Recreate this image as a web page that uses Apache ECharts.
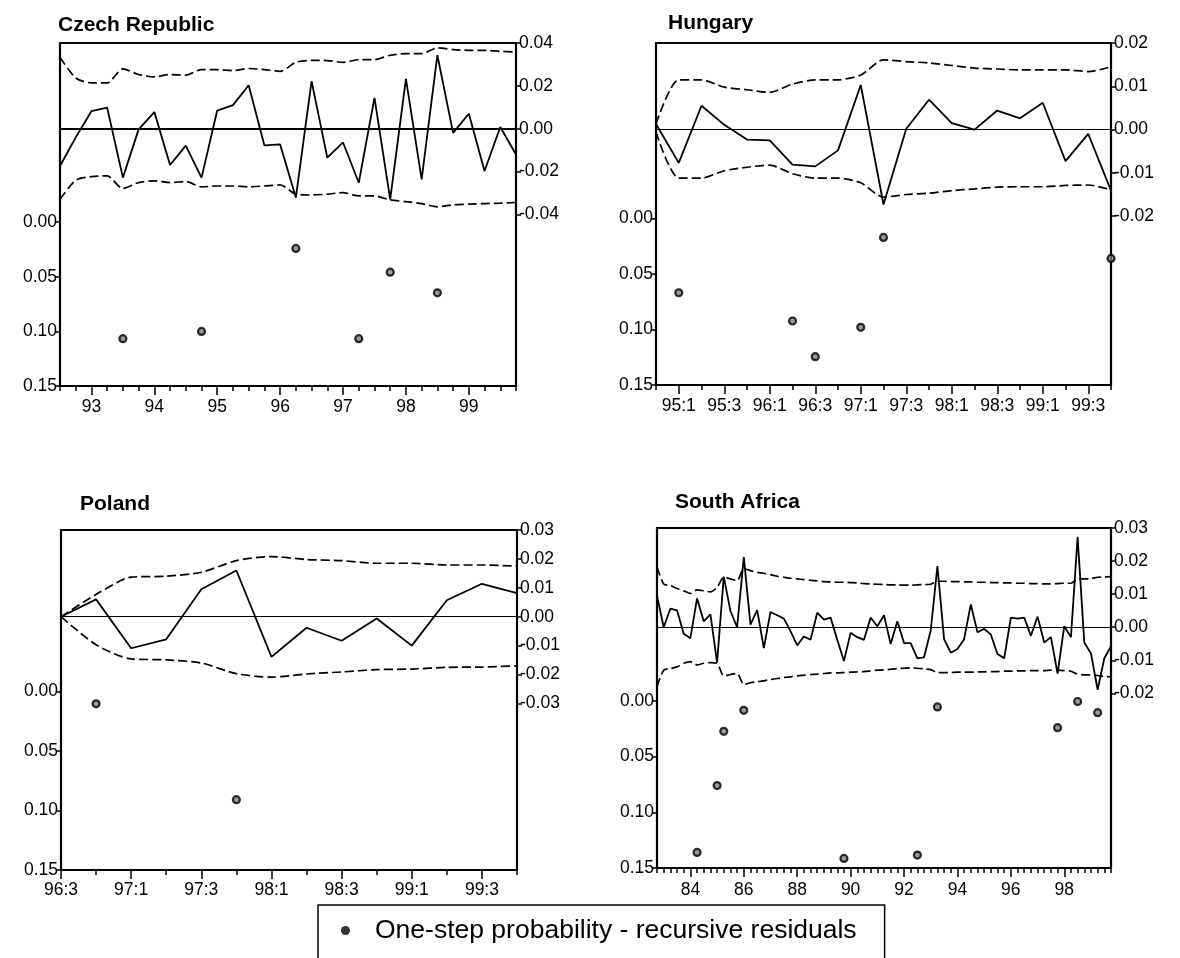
<!DOCTYPE html>
<html>
<head>
<meta charset="utf-8">
<script src="https://cdn.jsdelivr.net/npm/echarts@6/dist/echarts.min.js"></script>
<style>
  html, body { margin: 0; padding: 0; background: #fff; }
  #chart { width: 1180px; height: 958px; }
</style>
</head>
<body>
<div id="chart"></div>
<script>
// Recursive residuals (with +/- 2 S.E. bands) and one-step probabilities, quarterly.

// ---- Czech Republic (92:3 - 99:4) ----
const czStart = [92, 3], czCount = 30;
const czResid = [-0.0174, -0.0040, 0.0082, 0.0098, -0.0228, -0.0003, 0.0078, -0.0169, -0.0079, -0.0228,
                 0.0085, 0.0110, 0.0203, -0.0078, -0.0073, -0.0321, 0.0222, -0.0135, -0.0064, -0.0252,
                 0.0144, -0.0329, 0.0233, -0.0236, 0.0343, -0.0019, 0.0070, -0.0197, 0.0008, -0.0120];
const czUpper = [0.0333, 0.0237, 0.0214, 0.0214, 0.0279, 0.0253, 0.0242, 0.0253, 0.0250, 0.0276,
                 0.0276, 0.0271, 0.0281, 0.0276, 0.0268, 0.0310, 0.0319, 0.0318, 0.0310, 0.0322,
                 0.0322, 0.0343, 0.0350, 0.0350, 0.0377, 0.0369, 0.0366, 0.0366, 0.0361, 0.0358];
const czLower = [-0.0329, -0.0240, -0.0223, -0.0220, -0.0279, -0.0251, -0.0243, -0.0251, -0.0246, -0.0271,
                 -0.0267, -0.0267, -0.0271, -0.0267, -0.0262, -0.0305, -0.0309, -0.0305, -0.0298, -0.0313,
                 -0.0313, -0.0332, -0.0340, -0.0349, -0.0364, -0.0355, -0.0352, -0.0349, -0.0347, -0.0344];
const czProbQ = ['93:3', '94:4', '96:2', '97:2', '97:4', '98:3'];
const czProb  = [0.1067, 0.1000, 0.0241, 0.1067, 0.0458, 0.0647];
const czResidTicks = [-0.04, -0.02, 0.00, 0.02, 0.04];

// ---- Hungary (94:4 - 99:4) ----
const huStart = [94, 4], huCount = 21;
const huResid = [0.0013, -0.0077, 0.0055, 0.0011, -0.0023, -0.0025, -0.0081, -0.0085, -0.0048, 0.0103,
                 -0.0173, 0.0002, 0.0069, 0.0015, 0.0000, 0.0044, 0.0026, 0.0062, -0.0073, -0.0010, -0.0141];
const huUpper = [0.0013, 0.0115, 0.0115, 0.0098, 0.0092, 0.0086, 0.0105, 0.0115, 0.0115, 0.0126,
                 0.0161, 0.0157, 0.0154, 0.0148, 0.0142, 0.0140, 0.0138, 0.0138, 0.0138, 0.0134, 0.0145];
const huLower = [-0.0006, -0.0112, -0.0112, -0.0095, -0.0087, -0.0082, -0.0102, -0.0112, -0.0112, -0.0123,
                 -0.0156, -0.0150, -0.0147, -0.0141, -0.0137, -0.0133, -0.0132, -0.0132, -0.0129, -0.0128, -0.0139];
const huProbQ = ['95:1', '96:2', '96:3', '97:1', '97:2', '99:4'];
const huProb  = [0.0668, 0.0923, 0.1245, 0.0980, 0.0169, 0.0359];
const huResidTicks = [-0.02, -0.01, 0.00, 0.01, 0.02];

// ---- Poland (96:3 - 99:4) ----
const plStart = [96, 3], plCount = 14;
const plResid = [0.0000, 0.0060, -0.0109, -0.0078, 0.0095, 0.0160, -0.0139, -0.0038, -0.0083, -0.0006,
                 -0.0100, 0.0057, 0.0114, 0.0082];
const plUpper = [0.0000, 0.0077, 0.0137, 0.0140, 0.0154, 0.0194, 0.0208, 0.0198, 0.0194, 0.0185,
                 0.0185, 0.0179, 0.0179, 0.0175];
const plLower = [0.0000, -0.0097, -0.0146, -0.0149, -0.0160, -0.0197, -0.0209, -0.0198, -0.0191, -0.0183,
                 -0.0181, -0.0175, -0.0174, -0.0170];
const plProbQ = ['96:4', '97:4'];
const plProb  = [0.0104, 0.0909];
const plResidTicks = [-0.03, -0.02, -0.01, 0.00, 0.01, 0.02, 0.03];

// ---- South Africa (82:4 - 99:4) ----
const saStart = [82, 4], saCount = 69;
const saResid = [0.0095, 0.0000, 0.0056, 0.0051, -0.0020, -0.0033, 0.0087, 0.0018, 0.0039, -0.0107,
                 0.0153, 0.0049, 0.0000, 0.0212, 0.0008, 0.0052, -0.0063, 0.0046, 0.0036, 0.0026,
                 -0.0012, -0.0055, -0.0028, -0.0038, 0.0044, 0.0023, 0.0029, -0.0038, -0.0102, -0.0017,
                 -0.0030, -0.0038, 0.0029, 0.0003, 0.0036, -0.0051, 0.0018, -0.0048, -0.0048, -0.0094,
                 -0.0091, -0.0010, 0.0185, -0.0036, -0.0077, -0.0066, -0.0036, 0.0069, -0.0015, -0.0005,
                 -0.0022, -0.0081, -0.0094, 0.0029, 0.0026, 0.0029, -0.0026, 0.0032, -0.0046, -0.0030,
                 -0.0140, 0.0003, -0.0030, 0.0273, -0.0046, -0.0079, -0.0189, -0.0094, -0.0058];
const saUpper = [0.0182, 0.0131, 0.0126, 0.0117, 0.0110, 0.0102, 0.0113, 0.0110, 0.0107, 0.0120,
                 0.0151, 0.0146, 0.0141, 0.0177, 0.0171, 0.0166, 0.0163, 0.0159, 0.0154, 0.0151,
                 0.0148, 0.0146, 0.0144, 0.0142, 0.0140, 0.0138, 0.0137, 0.0136, 0.0136, 0.0135,
                 0.0134, 0.0132, 0.0131, 0.0130, 0.0129, 0.0128, 0.0128, 0.0127, 0.0127, 0.0128,
                 0.0129, 0.0130, 0.0139, 0.0139, 0.0138, 0.0138, 0.0137, 0.0137, 0.0136, 0.0136,
                 0.0135, 0.0135, 0.0134, 0.0134, 0.0133, 0.0133, 0.0132, 0.0132, 0.0131, 0.0131,
                 0.0132, 0.0133, 0.0133, 0.0146, 0.0146, 0.0147, 0.0151, 0.0152, 0.0153];
const saLower = [-0.0180, -0.0130, -0.0125, -0.0120, -0.0109, -0.0104, -0.0114, -0.0109, -0.0107, -0.0109,
                 -0.0147, -0.0143, -0.0140, -0.0173, -0.0168, -0.0165, -0.0162, -0.0158, -0.0155, -0.0152,
                 -0.0150, -0.0147, -0.0145, -0.0143, -0.0142, -0.0140, -0.0138, -0.0138, -0.0137, -0.0136,
                 -0.0135, -0.0134, -0.0132, -0.0130, -0.0129, -0.0127, -0.0125, -0.0124, -0.0123, -0.0124,
                 -0.0126, -0.0128, -0.0137, -0.0137, -0.0137, -0.0136, -0.0136, -0.0136, -0.0135, -0.0135,
                 -0.0134, -0.0134, -0.0133, -0.0133, -0.0132, -0.0132, -0.0131, -0.0131, -0.0131, -0.0130,
                 -0.0130, -0.0131, -0.0133, -0.0142, -0.0144, -0.0144, -0.0146, -0.0149, -0.0150];
const saProbQ = ['84:2', '85:1', '85:2', '86:1', '89:4', '92:3', '93:2', '97:4', '98:3', '99:2'];
const saProb  = [0.1360, 0.0760, 0.0273, 0.0084, 0.1414, 0.1384, 0.0054, 0.0240, 0.0005, 0.0105];
const saResidTicks = [-0.02, -0.01, 0.00, 0.01, 0.02, 0.03];

const probTicks = [0.00, 0.05, 0.10, 0.15];
const legendText = 'One-step probability - recursive residuals';

// quarterly period labels "yy:q"
function quarters(start, n) {
  const out = [];
  let y = start[0], q = start[1];
  for (let i = 0; i < n; i++) {
    out.push(y + ':' + q);
    q++; if (q > 4) { q = 1; y++; }
  }
  return out;
}

const FONT = 'Liberation Sans, Arial, Helvetica, sans-serif';
const panels = [
  { title: 'Czech Republic', titlePos: [53, 10], box: [60, 43, 456, 343], xMargin: 12,
    cats: quarters(czStart, czCount), resid: czResid, upper: czUpper, lower: czLower,
    probQ: czProbQ, prob: czProb, rTicks: czResidTicks, rRange: [-0.12, 0.04], pMin: -0.164,
    zeroW: 1.8, major: c => c.endsWith(':1'), fmt: c => c.split(':')[0] },
  { title: 'Hungary', titlePos: [663, 8], box: [656, 43, 455, 342], xMargin: 12,
    cats: quarters(huStart, huCount), resid: huResid, upper: huUpper, lower: huLower,
    probQ: huProbQ, prob: huProb, rTicks: huResidTicks, rRange: [-0.059, 0.02], pMin: -0.1584,
    zeroW: 1, major: c => c.endsWith(':1') || c.endsWith(':3'), fmt: c => c },
  { title: 'Poland', titlePos: [75, 489], box: [61, 530, 456, 340], xMargin: 11,
    cats: quarters(plStart, plCount), resid: plResid, upper: plUpper, lower: plLower,
    probQ: plProbQ, prob: plProb, rTicks: plResidTicks, rRange: [-0.0876, 0.03], pMin: -0.1357,
    zeroW: 1, major: c => c.endsWith(':1') || c.endsWith(':3'), fmt: c => c },
  { title: 'South Africa', titlePos: [670, 487], box: [657, 528, 454, 340], xMargin: 13,
    cats: quarters(saStart, saCount), resid: saResid, upper: saUpper, lower: saLower,
    probQ: saProbQ, prob: saProb, rTicks: saResidTicks, rRange: [-0.0728, 0.03], pMin: -0.1553,
    zeroW: 1, major: c => c.endsWith(':1') && (+c.split(':')[0]) % 2 === 0, fmt: c => c.split(':')[0] }
];

const option = {
  animation: false,
  backgroundColor: '#fff',
  textStyle: { fontFamily: FONT, color: '#000' },
  title: [], grid: [], xAxis: [], yAxis: [], series: [],
  legend: {
    data: [{ name: legendText, icon: 'circle', itemStyle: { color: '#000', borderWidth: 0 } }],
    left: 318, top: 905,
    orient: 'horizontal',
    itemWidth: 9, itemHeight: 9,
    padding: [12, 28, 40, 23],
    borderColor: '#000', borderWidth: 1.5, borderRadius: 0,
    selectedMode: false,
    textStyle: { fontFamily: FONT, fontSize: 26.5, color: '#000', padding: [0, 0, 0, 20] }
  }
};

const tickLabel = { fontFamily: FONT, fontSize: 17.5, color: '#000' };

panels.forEach((p, i) => {
  const [gl, gt, gw, gh] = p.box;
  option.title.push({
    text: p.title, left: p.titlePos[0], top: p.titlePos[1],
    textStyle: { fontFamily: FONT, fontSize: 21, fontWeight: 'bold', color: '#000' }
  });
  option.grid.push({
    left: gl, top: gt, width: gw, height: gh, show: true,
    borderColor: '#000', borderWidth: 2.2, backgroundColor: 'transparent'
  });
  // minor ticks at every quarter
  option.xAxis.push({
    type: 'category', gridIndex: i, data: p.cats, boundaryGap: false, position: 'bottom',
    axisLine: { show: false, onZero: false },
    axisTick: { show: true, interval: 0, length: 5, lineStyle: { color: '#000', width: 1.5 } },
    axisLabel: { show: false }, splitLine: { show: false }
  });
  // major ticks with labels
  const isMajor = (idx, val) => p.major(val);
  option.xAxis.push({
    type: 'category', gridIndex: i, data: p.cats, boundaryGap: false, position: 'bottom',
    axisLine: { show: false, onZero: false },
    axisTick: { show: true, interval: isMajor, length: 9, lineStyle: { color: '#000', width: 1.5 } },
    axisLabel: Object.assign({ interval: isMajor, margin: p.xMargin, formatter: v => p.fmt(v) }, tickLabel),
    splitLine: { show: false }
  });
  // left: one-step probability (inverted)
  option.yAxis.push({
    type: 'value', gridIndex: i, position: 'left', inverse: true, min: p.pMin, max: 0.15,
    axisLine: { show: false, onZero: false }, splitLine: { show: false },
    axisTick: { show: true, customValues: probTicks, length: 5, lineStyle: { color: '#000', width: 1.5 } },
    axisLabel: Object.assign({ customValues: probTicks, margin: 3, formatter: v => v.toFixed(2) }, tickLabel)
  });
  // right: recursive residuals
  option.yAxis.push({
    type: 'value', gridIndex: i, position: 'right', min: p.rRange[0], max: p.rRange[1],
    axisLine: { show: false, onZero: false }, splitLine: { show: false },
    axisTick: { show: true, customValues: p.rTicks, length: 5, lineStyle: { color: '#000', width: 1.5 } },
    axisLabel: Object.assign({ customValues: p.rTicks, margin: 3, formatter: v => v.toFixed(2) }, tickLabel)
  });

  const xi = 2 * i, yl = 2 * i, yr = 2 * i + 1;
  const dash = { color: '#000', width: 1.7, type: [9, 4] };
  option.series.push({
    name: 'Recursive residuals ' + p.title, type: 'line', xAxisIndex: xi, yAxisIndex: yr,
    data: p.resid, symbol: 'none', lineStyle: { color: '#000', width: 1.8 }, z: 3,
    markLine: {
      silent: true, symbol: ['none', 'none'], label: { show: false },
      lineStyle: { color: '#000', width: p.zeroW, type: 'solid' },
      data: [{ yAxis: 0 }]
    }
  });
  option.series.push({
    name: '+2 S.E. ' + p.title, type: 'line', xAxisIndex: xi, yAxisIndex: yr,
    data: p.upper, symbol: 'none', smooth: 0.25, lineStyle: dash
  });
  option.series.push({
    name: '-2 S.E. ' + p.title, type: 'line', xAxisIndex: xi, yAxisIndex: yr,
    data: p.lower, symbol: 'none', smooth: 0.25, lineStyle: dash
  });
  option.series.push({
    name: legendText, type: 'scatter', xAxisIndex: xi, yAxisIndex: yl,
    data: p.probQ.map((q, k) => [q, p.prob[k]]),
    symbol: 'circle', symbolSize: 7,
    itemStyle: { color: '#808080', borderColor: '#000', borderWidth: 2.2 }, z: 4
  });
});

const chart = echarts.init(document.getElementById('chart'), null, { renderer: 'canvas' });
chart.setOption(option);
</script>
</body>
</html>
